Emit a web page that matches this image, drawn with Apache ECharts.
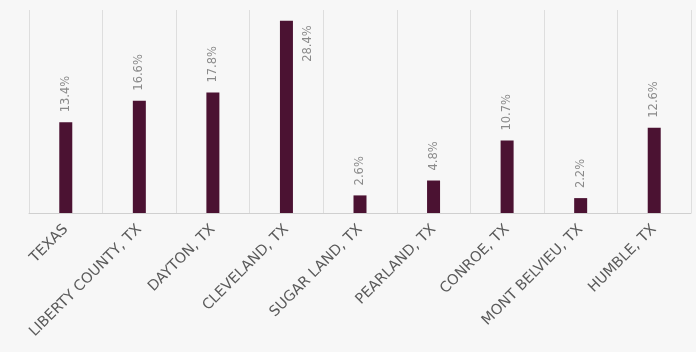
<!DOCTYPE html>
<html>
<head>
<meta charset="utf-8">
<script src="https://cdn.jsdelivr.net/npm/echarts@6/dist/echarts.min.js"></script>
<style>
  html, body { margin: 0; padding: 0; background: #f7f7f7; }
  #chart { width: 696px; height: 352px; }
</style>
</head>
<body>
<div id="chart"></div>
<script>
// places and their share (percent)
var places = ["TEXAS", "LIBERTY COUNTY, TX", "DAYTON, TX", "CLEVELAND, TX", "SUGAR LAND, TX",
  "PEARLAND, TX", "CONROE, TX", "MONT BELVIEU, TX", "HUMBLE, TX"];
var shares = [13.4, 16.6, 17.8, 28.4, 2.6, 4.8, 10.7, 2.2, 12.6];

var myChart = echarts.init(document.getElementById("chart"));

var barData = shares.map(function(v, i) {
  if (i === 3) {
    // tallest bar: label sits beside it, a bit under the top
    return {
      value: v,
      label: { position: [28, 41] }
    };
  }
  return v;
});

var option = {
  backgroundColor: "#f7f7f7",
  grid: { left: 29, right: 5, top: 10, bottom: 139 },
  xAxis: {
    type: "category",
    data: places,
    axisLine: { lineStyle: { color: "#d0d0d0" } },
    axisTick: { show: false },
    splitLine: { show: true, lineStyle: { color: "#dedede" } },
    axisLabel: {
      interval: 0,
      rotate: 45,
      color: "#5a5a5a",
      fontFamily: "DejaVu Sans",
      fontSize: 14.5,
      margin: 14
    }
  },
  yAxis: {
    type: "value",
    min: 0,
    max: 30,
    show: false,
    splitLine: { show: false }
  },
  series: [
    {
      type: "bar",
      data: barData,
      barWidth: 13,
      itemStyle: { color: "#4b1232" },
      label: {
        show: true,
        position: "top",
        rotate: 90,
        align: "left",
        verticalAlign: "middle",
        distance: 10,
        color: "#8a8a8a",
        fontFamily: "DejaVu Sans",
        fontSize: 11.5,
        formatter: function(p) { return p.value.toFixed(1) + "%"; }
      }
    }
  ]
};

myChart.setOption(option);
</script>
</body>
</html>
